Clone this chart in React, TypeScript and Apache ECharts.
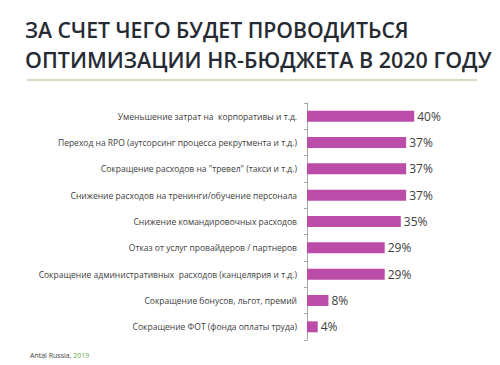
import React, { useEffect, useRef } from "react";
import * as echarts from "echarts";

const categories = [
  "Уменьшение затрат на  корпоративы и т.д.",
  "Переход на RPO (аутсорсинг процесса рекрутмента и т.д.)",
  "Сокращение расходов на \"тревел\" (такси и т.д.)",
  "Снижение расходов на тренинги/обучение персонала",
  "Снижение командировочных расходов",
  "Отказ от услуг провайдеров / партнеров",
  "Сокращение административных  расходов (канцелярия и т.д.)",
  "Сокращение бонусов, льгот, премий",
  "Сокращение ФОТ (фонда оплаты труда)",
];
const values = [40, 37, 37, 37, 35, 29, 29, 8, 4];
const titleLines = ["ЗА СЧЕТ ЧЕГО БУДЕТ ПРОВОДИТЬСЯ", "ОПТИМИЗАЦИИ HR-БЮДЖЕТА В 2020 ГОДУ"];
const sourceText = "Antal Russia, ";
const sourceYear = "2019";

export default function App() {
  const ref = useRef<HTMLDivElement>(null);
  useEffect(() => {
    if (!ref.current) return;
    document.body.style.margin = "0";
    const chart = echarts.init(ref.current, null, { renderer: "svg" });
    chart.setOption({
      animation: false,
      backgroundColor: "#ffffff",
      grid: { left: 307, right: 59, top: 103, bottom: 25 },
      xAxis: {
        type: "value",
        min: 0,
        max: 50,
        show: false,
      },
      yAxis: {
        type: "category",
        data: categories,
        inverse: true,
        axisLine: { show: true, lineStyle: { color: "#a6a6a6", width: 1 } },
        axisTick: { show: true, length: 3, lineStyle: { color: "#a6a6a6" } },
        axisLabel: {
          margin: 10,
          fontFamily: "Open Sans",
          fontSize: 8.5,
          color: "#404040",
        },
      },
      series: [
        {
          type: "bar",
          data: values,
          barWidth: 11,
          itemStyle: { color: "#bb4da9" },
          label: {
            show: true,
            position: "right",
            distance: 3,
            formatter: "{c}%",
            fontFamily: "Open Sans",
            fontSize: 12,
            color: "#404040",
          },
        },
      ],
      graphic: [
        {
          type: "text",
          x: 25,
          y: 18,
          scaleX: 0.965,
          style: {
            text: titleLines[0],
            fontFamily: "Open Sans",
            fontWeight: 600,
            fontSize: 22,
            fill: "#262b33",
          },
        },
        {
          type: "text",
          x: 25,
          y: 48,
          scaleX: 0.978,
          style: {
            text: titleLines[1],
            fontFamily: "Open Sans",
            fontWeight: 600,
            fontSize: 22,
            fill: "#262b33",
          },
        },
        {
          type: "line",
          shape: { x1: 27, y1: 80, x2: 477, y2: 80 },
          style: { stroke: "#9dc183", lineWidth: 1 },
        },
        {
          type: "text",
          x: 30,
          y: 352,
          style: {
            rich: {
              a: { fontFamily: "Open Sans", fontSize: 7, fill: "#404040" },
              b: { fontFamily: "Open Sans", fontSize: 7, fill: "#6aaa3a" },
            },
            text: "{a|" + sourceText + "}{b|" + sourceYear + "}",
          },
        },
      ],
    });
    return () => chart.dispose();
  }, []);
  return <div ref={ref} style={{ width: 500, height: 365 }} />;
}
